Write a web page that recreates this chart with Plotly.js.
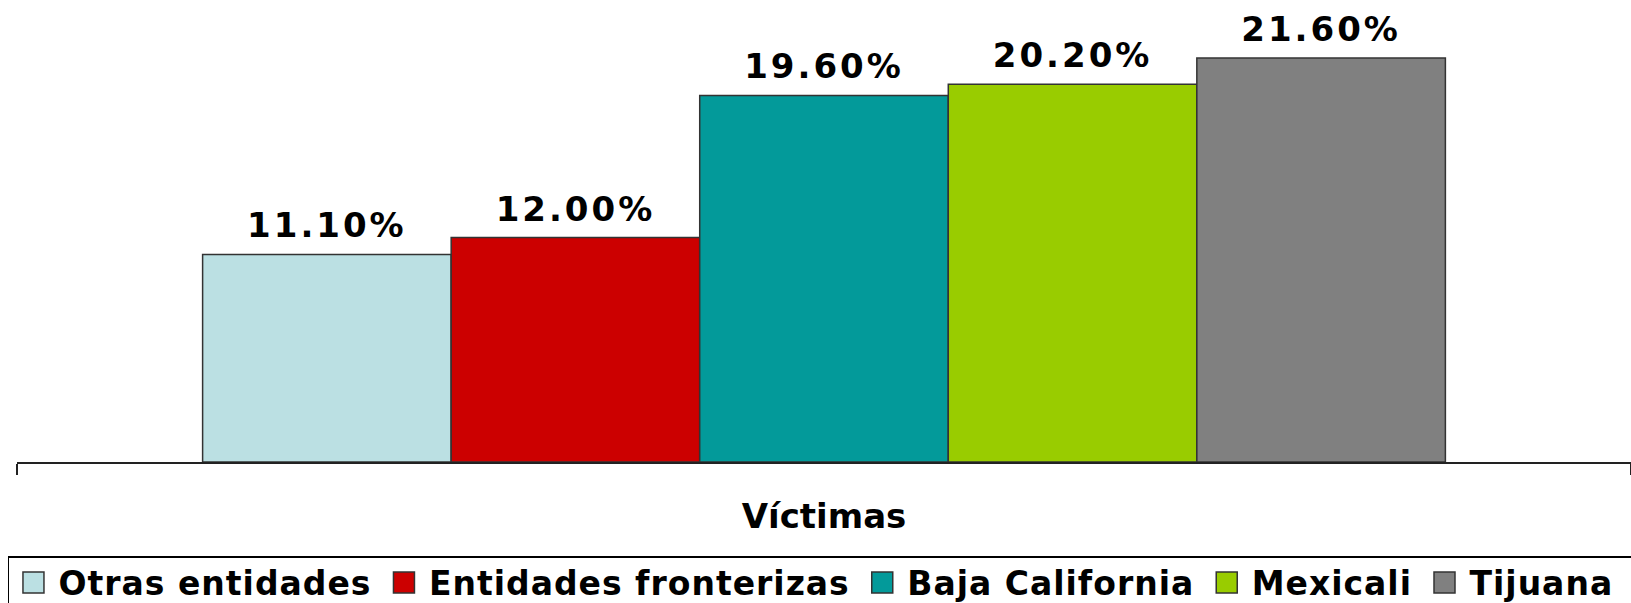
<!DOCTYPE html>
<html>
<head>
<meta charset="utf-8">
<script src="https://cdn.plot.ly/plotly-3.0.1.min.js"></script>
<style>
html,body{margin:0;padding:0;background:#fff;}
#chart{width:1631px;height:603px;}
text.bartext{letter-spacing:3px;}
text.legendtext{letter-spacing:1px;}
</style>
</head>
<body>
<div id="chart"></div>
<script>
const categories = ['Víctimas'];
const seriesNames = ['Otras entidades', 'Entidades fronterizas', 'Baja California', 'Mexicali', 'Tijuana'];
const otrasEntidades = [11.1];
const entidadesFronterizas = [12.0];
const bajaCalifornia = [19.6];
const mexicali = [20.2];
const tijuana = [21.6];
const seriesColors = ['#BBE0E3', '#CC0000', '#039A9A', '#99CC00', '#808080'];

const seriesValues = [otrasEntidades, entidadesFronterizas, bajaCalifornia, mexicali, tijuana];
const FONT = '"DejaVu Sans", Verdana, sans-serif';

const traces = seriesValues.map((vals, i) => ({
  type: 'bar',
  name: seriesNames[i] + (i < seriesNames.length - 1 ? '\u00a0' : ''),
  x: categories,
  y: vals,
  marker: {color: seriesColors[i], line: {color: '#333333', width: 1.5}},
  text: vals.map(v => v.toFixed(2) + '%'),
  textposition: 'outside',
  cliponaxis: false,
  textfont: {family: FONT, size: 34, color: '#000000', weight: 'bold'},
  hoverinfo: 'none'
}));

const layout = {
  width: 1631,
  height: 603,
  margin: {l: 17, r: 0, t: 0, b: 141, autoexpand: false},
  paper_bgcolor: '#ffffff',
  plot_bgcolor: '#ffffff',
  barmode: 'group',
  bargap: 0.23,
  bargroupgap: 0,
  showlegend: true,
  xaxis: {
    type: 'category',
    showline: true,
    linecolor: '#222222',
    linewidth: 2,
    ticks: 'outside',
    tickson: 'boundaries',
    ticklen: 11,
    tickwidth: 2,
    tickcolor: '#222222',
    showgrid: false,
    zeroline: false,
    tickfont: {family: FONT, size: 34, color: '#000000', weight: 'bold'},
    ticklabelstandoff: 23
  },
  yaxis: {
    range: [0, 24.7],
    visible: false,
    showgrid: false,
    zeroline: false
  },
  legend: {
    orientation: 'h',
    x: -0.0056,
    xanchor: 'left',
    y: -0.2035,
    yanchor: 'top',
    bordercolor: '#000000',
    borderwidth: 1.5,
    bgcolor: '#ffffff',
    font: {family: FONT, size: 33, color: '#000000', weight: 'bold'},
    traceorder: 'normal',
    itemclick: false
  }
};

Plotly.newPlot('chart', traces, layout, {staticPlot: true, displayModeBar: false}).then(() => {
  document.querySelectorAll('.legend .legendpoints path').forEach(p => {
    p.setAttribute('d', 'M5.5,10.5H-15.5V-10.5H5.5Z');
    p.style.strokeWidth = '1.5px';
    p.style.stroke = '#333333';
  });
  const sb = document.querySelector('.legend .scrollbox');
  if (sb) {
    const t = sb.getAttribute('transform') || '';
    sb.setAttribute('transform', t + ' translate(9,-3)');
  }
  const bg = document.querySelector('.legend rect.bg');
  if (bg) {
    const w = parseFloat(bg.getAttribute('width')) || 0;
    bg.setAttribute('width', w + 100);
  }
  document.querySelectorAll('text.bartext').forEach(el => {
    const t = el.getAttribute('transform') || '';
    el.setAttribute('transform', 'translate(0,-6) ' + t);
  });
});
</script>
</body>
</html>
